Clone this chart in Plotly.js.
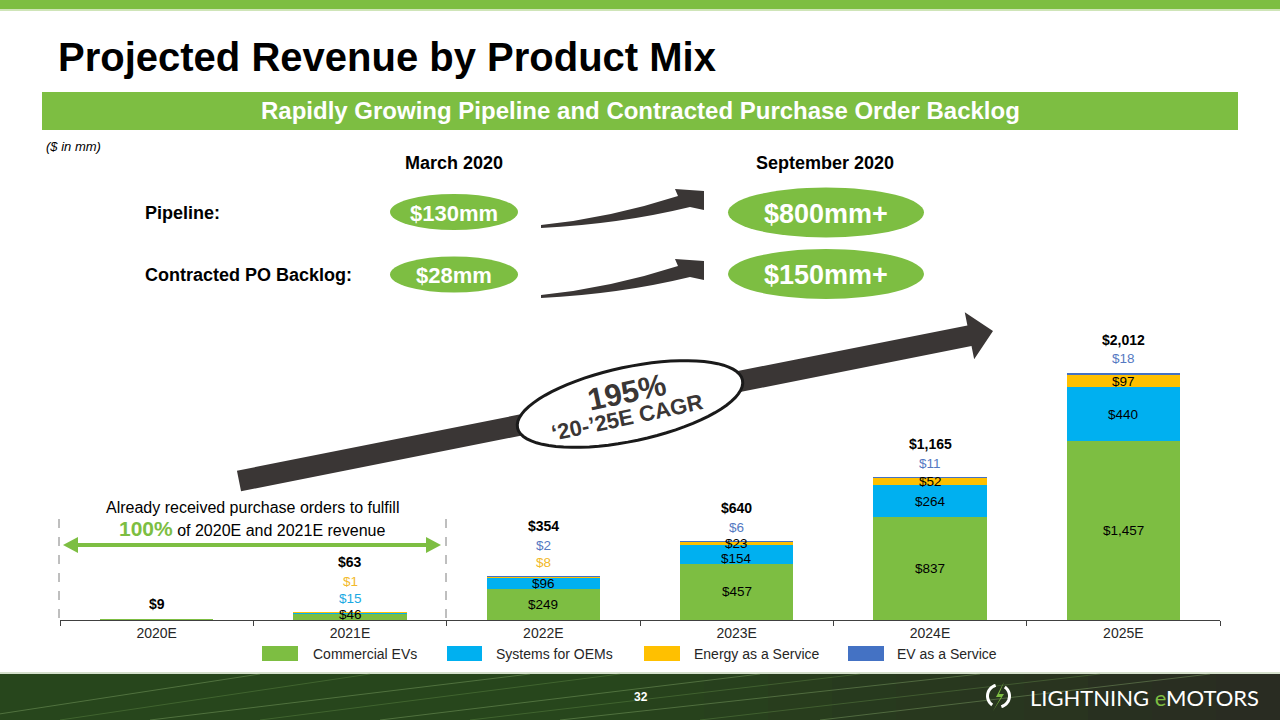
<!DOCTYPE html>
<html><head><meta charset="utf-8">
<script src="https://cdn.plot.ly/plotly-3.0.1.min.js"></script>
<style>html,body{margin:0;padding:0;background:#fff;overflow:hidden}#chart{width:1280px;height:720px}</style>
</head><body><div id="chart"></div>
<script>
// ---------------- DATA ----------------
const categories = ['2020E','2021E','2022E','2023E','2024E','2025E'];
const commercialEVs = [9, 46, 249, 457, 837, 1457];
const systemsForOEMs = [0, 15, 96, 154, 264, 440];
const energyAsAService = [0, 1, 8, 23, 52, 97];
const evAsAService = [0, 0, 2, 6, 11, 18];
const totals = [9, 63, 354, 640, 1165, 2012];
const seriesNames = ['Commercial EVs','Systems for OEMs','Energy as a Service','EV as a Service'];
const pipelineBefore = '$130mm', pipelineAfter = '$800mm+';
const backlogBefore = '$28mm', backlogAfter = '$150mm+';
const cagrText = '195%';

// ---------------- STYLE ----------------
const seriesValues = [commercialEVs, systemsForOEMs, energyAsAService, evAsAService];
const seriesColors = ['#7DBE42','#00B0F0','#FFC000','#4472C4'];
const labelColors = ['#000000','#1AA9E3','#F2B92A','#5479C2'];
const GREEN = '#7DBE42', DARK = '#3A3635';
const FONT = 'Liberation Sans, Arial, Helvetica, sans-serif';
const L = 60, R = 1220, T = 330, B = 620;
const YMAX = 2362;
const pxPerUnit = (B - T) / YMAX;
const px = x => (x - L) / (R - L);
const py = y => (B - y) / (B - T);
const P = (x, y) => px(x).toFixed(5) + ',' + py(y).toFixed(5);
const fmt = v => '$' + v.toLocaleString('en-US');
const LBL = 13.5;

// ---------------- TRACES ----------------
const traces = seriesValues.map((vals, s) => ({
  type: 'bar', x: categories, y: vals, name: seriesNames[s],
  marker: {color: seriesColors[s], line: {width: 0}},
  hoverinfo: 'skip', showlegend: false
}));

// ---------------- ANNOTATIONS / SHAPES ----------------
const ann = [];
const shapes = [];
function txt(x, y, text, o) {
  o = o || {};
  const font = Object.assign({family: FONT, size: 16, color: '#000'}, o.font || {});
  ann.push(Object.assign({xref: 'paper', yref: 'paper', x: px(x), y: py(y), text: text,
    showarrow: false, xanchor: 'center', yanchor: 'middle'}, o, {font: font}));
}
function rect(x0, y0, x1, y1, fill, o) {
  shapes.push(Object.assign({type: 'rect', xref: 'paper', yref: 'paper', x0: px(x0), x1: px(x1), y0: py(y1), y1: py(y0),
    fillcolor: fill, line: {width: 0}, layer: 'above'}, o || {}));
}
function ell(cx, cy, rx, ry, fill) {
  shapes.push({type: 'circle', xref: 'paper', yref: 'paper', x0: px(cx - rx), x1: px(cx + rx), y0: py(cy + ry), y1: py(cy - ry),
    fillcolor: fill, line: {width: 0}, layer: 'above'});
}
function path(d, fill, line) {
  shapes.push({type: 'path', xref: 'paper', yref: 'paper', path: d, fillcolor: fill, line: line || {width: 0}, layer: 'above'});
}
function line(x0, y0, x1, y1, color, width, dash, opacity) {
  shapes.push({type: 'line', xref: 'paper', yref: 'paper', x0: px(x0), x1: px(x1), y0: py(y0), y1: py(y1),
    line: {color: color, width: width, dash: dash || 'solid'}, opacity: opacity == null ? 1 : opacity, layer: 'above'});
}

// bar value labels
categories.forEach((c, i) => {
  let base = 0;
  const outside = [], inside = [];
  const stackTop = seriesValues.reduce((a, v) => a + v[i], 0);
  seriesValues.forEach((vals, s) => {
    const v = vals[i];
    if (v > 0 && v !== stackTop) {
      if (v >= 20) inside.push({s: s, v: v, y: Math.max(base + v / 2, 6 / pxPerUnit)});
      else outside.push(s);
    }
    base += v;
  });
  // keep a minimum gap between stacked inside labels (push lower ones down)
  const gap = 15 / pxPerUnit;
  for (let k = inside.length - 2; k >= 0; k--) inside[k].y = Math.min(inside[k].y, inside[k + 1].y - gap);
  inside.forEach(o => ann.push({xref: 'x', yref: 'y', x: c, y: o.y, text: fmt(o.v), showarrow: false,
    yanchor: 'middle', font: {family: FONT, size: LBL, color: '#000'}}));
  outside.forEach((s, k) => {
    ann.push({xref: 'x', yref: 'y', x: c, y: stackTop, yshift: 14 + 17 * k, text: fmt(seriesValues[s][i]), showarrow: false,
      yanchor: 'middle', font: {family: FONT, size: LBL, color: labelColors[s]}});
  });
  const totShift = outside.length ? 14 + 17 * (outside.length - 1) + 19 : 15;
  ann.push({xref: 'x', yref: 'y', x: c, y: stackTop, yshift: totShift, text: '<b>' + fmt(totals[i]) + '</b>', showarrow: false,
    yanchor: 'middle', font: {family: FONT, size: 14, color: '#000'}});
});

// top band
rect(0, 0, 1280, 9, GREEN);
rect(0, 9, 1280, 11, '#CFE5B8');
// banner
rect(42, 92, 1238, 130, GREEN);
txt(640, 111, '<b>Rapidly Growing Pipeline and Contracted Purchase Order Backlog</b>', {font: {size: 24, color: '#fff'}});
txt(44, 146, '<i>($ in mm)</i>', {xanchor: 'left', font: {size: 13}});

// pipeline section
txt(454, 163, '<b>March 2020</b>', {font: {size: 18}});
txt(825, 163, '<b>September 2020</b>', {font: {size: 18}});
txt(143, 213, '<b>Pipeline:</b>', {xanchor: 'left', font: {size: 18}});
txt(143, 275, '<b>Contracted PO Backlog:</b>', {xanchor: 'left', font: {size: 18}});
ell(454, 212, 64, 18, GREEN);
ell(454, 274.5, 64, 18, GREEN);
ell(826, 212.5, 98, 25, GREEN);
ell(826, 274, 98, 25, GREEN);
txt(454, 213, '<b>' + pipelineBefore + '</b>', {font: {size: 22, color: '#fff'}});
txt(454, 275, '<b>' + backlogBefore + '</b>', {font: {size: 22, color: '#fff'}});
txt(826, 214, '<b>' + pipelineAfter + '</b>', {font: {size: 27, color: '#fff'}});
txt(826, 275, '<b>' + backlogAfter + '</b>', {font: {size: 27, color: '#fff'}});
// swoosh arrows
[0, 70].forEach(dy => {
  path('M' + P(541, 225 + dy) + ' Q' + P(610, 218 + dy) + ' ' + P(678, 196 + dy) +
       ' L' + P(675, 189 + dy) + ' L' + P(704, 191 + dy) + ' L' + P(704, 210 + dy) + ' L' + P(690, 207 + dy) +
       ' Q' + P(620, 224 + dy) + ' ' + P(541, 228 + dy) + ' Z', DARK);
});

// big CAGR arrow
(function () {
  const t0 = [239, 481], tip = [993, 331];
  const dx = tip[0] - t0[0], dy = tip[1] - t0[1], len = Math.hypot(dx, dy);
  const u = [dx / len, dy / len], n = [-u[1], u[0]];
  const hw = 10.5, hl = 24, hh = 24;
  const neck = [tip[0] - u[0] * hl, tip[1] - u[1] * hl];
  const pts = [
    [t0[0] - n[0] * hw, t0[1] - n[1] * hw], [neck[0] - n[0] * hw, neck[1] - n[1] * hw],
    [neck[0] - n[0] * hh, neck[1] - n[1] * hh], tip,
    [neck[0] + n[0] * hh, neck[1] + n[1] * hh], [neck[0] + n[0] * hw, neck[1] + n[1] * hw],
    [t0[0] + n[0] * hw, t0[1] + n[1] * hw]];
  path('M' + pts.map(p => P(p[0], p[1])).join(' L') + ' Z', DARK);
  // rotated ellipse
  const cx = 630, cy = 404, a = 115, b = 37, th = -12 * Math.PI / 180, e = [];
  for (let k = 0; k < 72; k++) {
    const f = k / 72 * 2 * Math.PI;
    e.push([cx + a * Math.cos(f) * Math.cos(th) - b * Math.sin(f) * Math.sin(th),
            cy + a * Math.cos(f) * Math.sin(th) + b * Math.sin(f) * Math.cos(th)]);
  }
  path('M' + e.map(p => P(p[0], p[1])).join(' L') + ' Z', '#fff', {color: '#1a1a1a', width: 3});
})();
txt(626, 392, '<b>' + cagrText + '</b>', {textangle: -12, font: {size: 31, color: DARK}});
txt(627, 417, '<b>\u201820-\u201925E CAGR</b>', {textangle: -12, font: {size: 22, color: DARK}});

// 100% bracket
line(59, 519, 59, 620, '#7F7F7F', 1, 'dash');
line(446, 519, 446, 620, '#7F7F7F', 1, 'dash');
line(74, 545, 430, 545, GREEN, 4);
path('M' + P(63, 545) + ' L' + P(78, 537) + ' L' + P(78, 553) + ' Z', GREEN);
path('M' + P(441, 545) + ' L' + P(426, 537) + ' L' + P(426, 553) + ' Z', GREEN);
txt(252, 507, 'Already received purchase orders to fulfill', {font: {size: 16}});
txt(252, 528, '<span style="color:' + GREEN + ';font-size:21px"><b>100%</b></span> of 2020E and 2021E revenue', {font: {size: 16}});

// legend (manual)
const legX = [[262, 298, 311], [447, 482, 494], [644, 680, 692], [848, 884, 895]];
seriesNames.forEach((nm, s) => {
  rect(legX[s][0], 646, legX[s][1], 661, seriesColors[s]);
  txt(legX[s][2], 654, nm, {xanchor: 'left', font: {size: 14, color: '#262626'}});
});

// footer
rect(0, 672, 1280, 674, '#D5E0CC');
rect(0, 674, 1280, 720, '#27461C');
for (let k = 0; k < 10; k++) rect(640 + k * 64, 674, 704 + k * 64, 720, '#2A2A22', {opacity: 0.12 + k * 0.09});
const streaks = [[-40, 60], [60, 170], [150, 330], [260, 420], [380, 560], [470, 660], [560, 780], [700, 900], [820, 1010]];
streaks.forEach((st, k) => line(st[0], 720, st[1] + 200, 674, k % 2 ? '#6F9B52' : '#9CC27E', 1, 'solid', 0.35));
txt(641, 697, '<b>32</b>', {font: {size: 12, color: '#fff'}});
// logo icon
(function () {
  const cx = 998.5, cy = 696, r = 11;
  const arc = (a0, a1) => {
    const p = [];
    for (let k = 0; k <= 20; k++) { const a = (a0 + (a1 - a0) * k / 20) * Math.PI / 180; p.push(P(cx + r * Math.cos(a), cy - r * Math.sin(a))); }
    return 'M' + p.join(' L');
  };
  shapes.push({type: 'path', xref: 'paper', yref: 'paper', path: arc(105, 235), line: {color: '#fff', width: 3}, layer: 'above'});
  shapes.push({type: 'path', xref: 'paper', yref: 'paper', path: arc(-75, 55), line: {color: '#fff', width: 3}, layer: 'above'});
  path('M' + P(1004, 682) + ' L' + P(996, 697) + ' L' + P(1001, 697) + ' L' + P(993, 711) + ' L' + P(1004, 694) + ' L' + P(999, 694) + ' Z', GREEN);
})();
txt(1028, 697, 'LIGHTNING <span style="color:' + GREEN + '">e</span>MOTORS', {xanchor: 'left', font: {family: 'Lato, Liberation Sans, sans-serif', size: 22, color: '#fff'}});

const layout = {
  width: 1280, height: 720,
  margin: {l: L, r: 1280 - R, t: T, b: 720 - B, pad: 0},
  paper_bgcolor: '#fff', plot_bgcolor: '#fff',
  barmode: 'stack', bargap: 0.415, showlegend: false,
  title: {text: '<b>Projected Revenue by Product Mix</b>', xref: 'container', yref: 'container', x: 58 / 1280, xanchor: 'left',
          y: 1 - 57 / 720, yanchor: 'middle', font: {family: FONT, size: 40, color: '#000'}},
  xaxis: {type: 'category', categoryorder: 'array', categoryarray: categories, showline: true, linecolor: '#404040', linewidth: 1,
          ticks: 'outside', tickson: 'boundaries', ticklen: 5, tickcolor: '#404040', showgrid: false, zeroline: false,
          tickfont: {family: FONT, size: 14, color: '#262626'}, fixedrange: true},
  yaxis: {range: [0, YMAX], visible: false, showgrid: false, zeroline: false, fixedrange: true},
  annotations: ann, shapes: shapes
};
Plotly.newPlot('chart', traces, layout, {staticPlot: true, displayModeBar: false});
</script></body></html>
